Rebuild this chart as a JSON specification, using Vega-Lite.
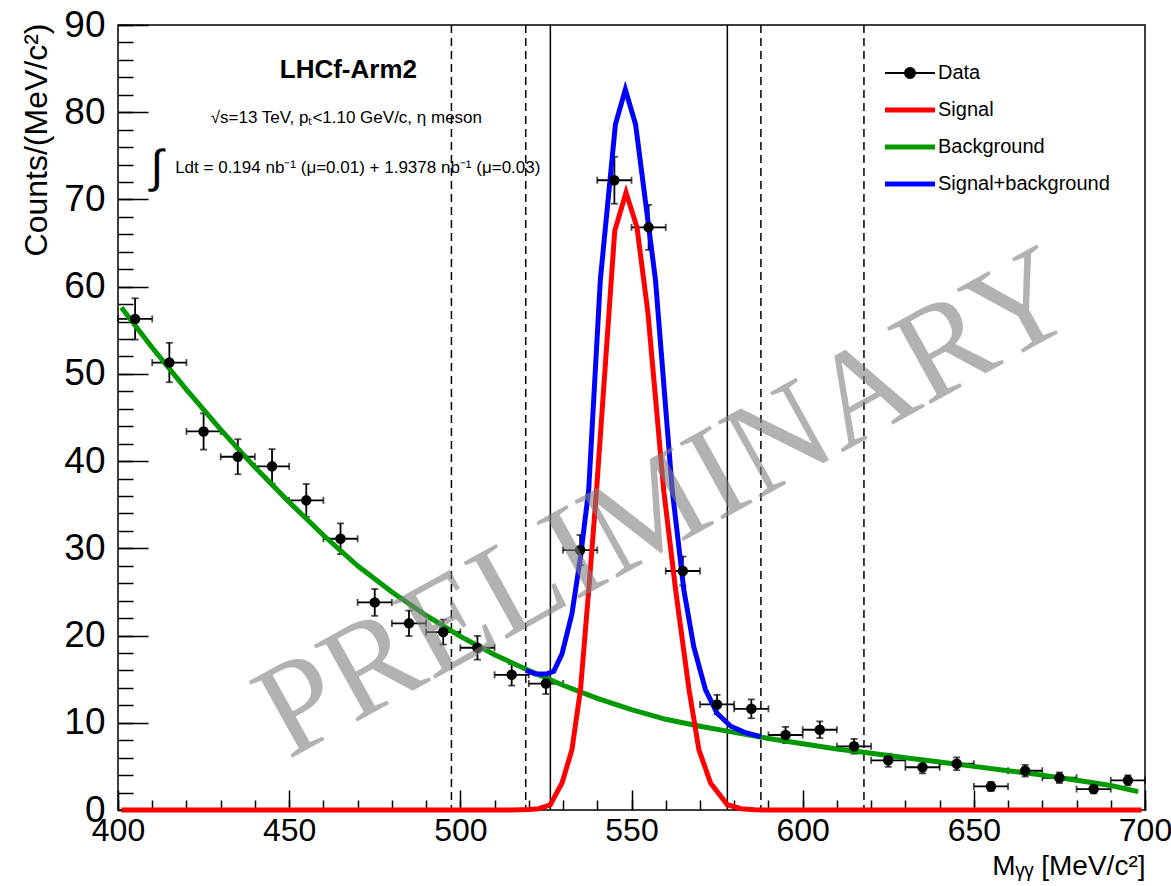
{
  "$schema": "https://vega.github.io/schema/vega-lite/v6.json",
  "width": 1027,
  "height": 785,
  "autosize": {"type": "none"},
  "padding": {"left": 118, "top": 25, "right": 26, "bottom": 76},
  "background": "white",
  "config": {
    "view": {"stroke": "black", "strokeWidth": 1.5},
    "font": "Liberation Sans",
    "legend": {
      "orient": "none", "legendX": 782, "legendY": 38, "title": null, "padding": 0,
      "symbolType": "M-2.5,0L2.5,0", "symbolSize": 400, "symbolStrokeWidth": 5,
      "labelOffset": 18, "rowPadding": 17, "labelFontSize": 20, "labelFont": "Liberation Sans", "labelColor": "black", "labelLimit": 400
    }
  },
  "datasets": {
    "pts": [
      {"m": 405, "c": 56.3, "lo": 53.93, "hi": 58.67, "xl": 400, "xh": 410},
      {"m": 415, "c": 51.3, "lo": 49.04, "hi": 53.56, "xl": 410, "xh": 420},
      {"m": 425, "c": 43.4, "lo": 41.32, "hi": 45.48, "xl": 420, "xh": 430},
      {"m": 435, "c": 40.5, "lo": 38.49, "hi": 42.51, "xl": 430, "xh": 440},
      {"m": 445, "c": 39.4, "lo": 37.42, "hi": 41.38, "xl": 440, "xh": 450},
      {"m": 455, "c": 35.5, "lo": 33.62, "hi": 37.38, "xl": 450, "xh": 460},
      {"m": 465, "c": 31.1, "lo": 29.34, "hi": 32.86, "xl": 460, "xh": 470},
      {"m": 475, "c": 23.8, "lo": 22.26, "hi": 25.34, "xl": 470, "xh": 480},
      {"m": 485, "c": 21.4, "lo": 19.94, "hi": 22.86, "xl": 480, "xh": 490},
      {"m": 495, "c": 20.4, "lo": 18.97, "hi": 21.83, "xl": 490, "xh": 500},
      {"m": 505, "c": 18.6, "lo": 17.24, "hi": 19.96, "xl": 500, "xh": 510},
      {"m": 515, "c": 15.5, "lo": 14.26, "hi": 16.74, "xl": 510, "xh": 520},
      {"m": 525, "c": 14.5, "lo": 13.3, "hi": 15.7, "xl": 520, "xh": 530},
      {"m": 535, "c": 29.8, "lo": 28.07, "hi": 31.53, "xl": 530, "xh": 540},
      {"m": 545, "c": 72.2, "lo": 69.51, "hi": 74.89, "xl": 540, "xh": 550},
      {"m": 555, "c": 66.8, "lo": 64.22, "hi": 69.38, "xl": 550, "xh": 560},
      {"m": 565, "c": 27.4, "lo": 25.74, "hi": 29.06, "xl": 560, "xh": 570},
      {"m": 575, "c": 12.1, "lo": 11.0, "hi": 13.2, "xl": 570, "xh": 580},
      {"m": 585, "c": 11.6, "lo": 10.52, "hi": 12.68, "xl": 580, "xh": 590},
      {"m": 595, "c": 8.6, "lo": 7.67, "hi": 9.53, "xl": 590, "xh": 600},
      {"m": 605, "c": 9.2, "lo": 8.24, "hi": 10.16, "xl": 600, "xh": 610},
      {"m": 615, "c": 7.3, "lo": 6.45, "hi": 8.15, "xl": 610, "xh": 620},
      {"m": 625, "c": 5.7, "lo": 4.95, "hi": 6.45, "xl": 620, "xh": 630},
      {"m": 635, "c": 4.9, "lo": 4.2, "hi": 5.6, "xl": 630, "xh": 640},
      {"m": 645, "c": 5.3, "lo": 4.57, "hi": 6.03, "xl": 640, "xh": 650},
      {"m": 655, "c": 2.7, "lo": 2.18, "hi": 3.22, "xl": 650, "xh": 660},
      {"m": 665, "c": 4.5, "lo": 3.83, "hi": 5.17, "xl": 660, "xh": 670},
      {"m": 675, "c": 3.7, "lo": 3.09, "hi": 4.31, "xl": 670, "xh": 680},
      {"m": 685, "c": 2.4, "lo": 1.91, "hi": 2.89, "xl": 680, "xh": 690},
      {"m": 695, "c": 3.4, "lo": 2.82, "hi": 3.98, "xl": 690, "xh": 700}
    ],
    "bkg": [
      {"m": 401, "v": 57.6}, {"m": 410, "v": 53.0}, {"m": 420, "v": 48.2},
      {"m": 430, "v": 43.6}, {"m": 440, "v": 39.3}, {"m": 450, "v": 35.3},
      {"m": 460, "v": 31.5}, {"m": 470, "v": 28.0}, {"m": 480, "v": 25.0},
      {"m": 490, "v": 22.3}, {"m": 500, "v": 19.9}, {"m": 510, "v": 17.8},
      {"m": 520, "v": 16.0}, {"m": 530, "v": 14.3}, {"m": 540, "v": 12.8},
      {"m": 550, "v": 11.5}, {"m": 560, "v": 10.4}, {"m": 570, "v": 9.6},
      {"m": 580, "v": 8.9}, {"m": 590, "v": 8.2}, {"m": 600, "v": 7.6},
      {"m": 610, "v": 7.0}, {"m": 620, "v": 6.5}, {"m": 630, "v": 6.0},
      {"m": 640, "v": 5.5}, {"m": 650, "v": 5.0}, {"m": 660, "v": 4.5},
      {"m": 670, "v": 4.0}, {"m": 680, "v": 3.4}, {"m": 690, "v": 2.8},
      {"m": 698, "v": 2.1}
    ],
    "sb": [
      {"m": 519.1, "v": 16.0}, {"m": 522, "v": 15.6}, {"m": 525.3, "v": 15.6},
      {"m": 527.3, "v": 15.9}, {"m": 529.7, "v": 17.9}, {"m": 532.6, "v": 22.5},
      {"m": 535.1, "v": 29.0}, {"m": 537.5, "v": 36.7}, {"m": 540.9, "v": 60.8},
      {"m": 545.3, "v": 78.6}, {"m": 548.2, "v": 82.6}, {"m": 551.2, "v": 78.6},
      {"m": 557.0, "v": 60.8}, {"m": 561.9, "v": 36.7}, {"m": 565.3, "v": 25.2},
      {"m": 568.2, "v": 18.7}, {"m": 571.6, "v": 13.8}, {"m": 575.0, "v": 11.1},
      {"m": 579.0, "v": 9.6}, {"m": 583, "v": 8.9}, {"m": 587.8, "v": 8.4}
    ],
    "sig": [
      {"m": 401, "v": 0}, {"m": 515, "v": 0}, {"m": 520, "v": 0.05},
      {"m": 523, "v": 0.15}, {"m": 526.3, "v": 0.6}, {"m": 529.7, "v": 3.1},
      {"m": 532.6, "v": 6.9}, {"m": 535.1, "v": 13.8}, {"m": 537.5, "v": 25.2},
      {"m": 539.8, "v": 36.7}, {"m": 545.1, "v": 66.4}, {"m": 548.4, "v": 70.8},
      {"m": 551.6, "v": 66.8}, {"m": 554.8, "v": 57.0}, {"m": 559.4, "v": 36.7},
      {"m": 562.9, "v": 25.2}, {"m": 566.8, "v": 13.8}, {"m": 569.7, "v": 6.9},
      {"m": 573.1, "v": 3.1}, {"m": 578.0, "v": 0.6}, {"m": 582, "v": 0.15},
      {"m": 586, "v": 0.03}, {"m": 590, "v": 0}, {"m": 699, "v": 0}
    ],
    "dashed": [{"m": 497.4}, {"m": 519.1}, {"m": 587.8}, {"m": 617.9}],
    "solid": [{"m": 526.3}, {"m": 578.0}],
    "one": [{}]
  },
  "resolve": {"axis": {"x": "independent", "y": "independent"}},
  "layer": [
    {
      "data": {"name": "dashed"},
      "mark": {"type": "rule", "color": "black", "strokeWidth": 1.5, "strokeDash": [8, 5]},
      "encoding": {
        "x": {"field": "m", "type": "quantitative", "scale": {"domain": [400, 700], "nice": false, "zero": false}, "axis": null}
      }
    },
    {
      "data": {"name": "solid"},
      "mark": {"type": "rule", "color": "black", "strokeWidth": 1.5},
      "encoding": {
        "x": {"field": "m", "type": "quantitative", "axis": null}
      }
    },
    {
      "data": {"name": "pts"},
      "mark": {"type": "rule", "color": "black", "strokeWidth": 1.8},
      "encoding": {
        "x": {"field": "m", "type": "quantitative",
          "axis": {"orient": "bottom", "values": [400,410,420,430,440,450,460,470,480,490,500,510,520,530,540,550,560,570,580,590,600,610,620,630,640,650,660,670,680,690,700],
            "tickSize": -10, "tickWidth": 1.5, "tickColor": "black", "labels": false, "domain": false, "grid": false, "title": null}},
        "y": {"field": "lo", "type": "quantitative",
          "scale": {"domain": [0, 90], "nice": false, "zero": false},
          "axis": {"orient": "left", "values": [0,2,4,6,8,10,12,14,16,18,20,22,24,26,28,30,32,34,36,38,40,42,44,46,48,50,52,54,56,58,60,62,64,66,68,70,72,74,76,78,80,82,84,86,88,90],
            "tickSize": -15, "tickWidth": 1.5, "tickColor": "black", "labels": false, "domain": false, "grid": false, "title": null}},
        "y2": {"field": "hi"}
      }
    },
    {
      "data": {"name": "pts"},
      "mark": {"type": "rule", "color": "black", "strokeWidth": 1.8},
      "encoding": {
        "x": {"field": "xl", "type": "quantitative", "axis": null},
        "x2": {"field": "xh"},
        "y": {"field": "c", "type": "quantitative", "axis": null}
      }
    },
    {
      "data": {"name": "pts"},
      "mark": {"type": "tick", "orient": "horizontal", "color": "black", "size": 7, "thickness": 1.8},
      "encoding": {
        "x": {"field": "m", "type": "quantitative", "axis": null},
        "y": {"field": "lo", "type": "quantitative", "axis": null}
      }
    },
    {
      "data": {"name": "pts"},
      "mark": {"type": "tick", "orient": "horizontal", "color": "black", "size": 7, "thickness": 1.8},
      "encoding": {
        "x": {"field": "m", "type": "quantitative", "axis": null},
        "y": {"field": "hi", "type": "quantitative", "axis": null}
      }
    },
    {
      "data": {"name": "pts"},
      "mark": {"type": "tick", "orient": "vertical", "color": "black", "size": 7, "thickness": 1.8},
      "encoding": {
        "x": {"field": "xl", "type": "quantitative", "axis": null},
        "y": {"field": "c", "type": "quantitative", "axis": null}
      }
    },
    {
      "data": {"name": "pts"},
      "mark": {"type": "tick", "orient": "vertical", "color": "black", "size": 7, "thickness": 1.8},
      "encoding": {
        "x": {"field": "xh", "type": "quantitative", "axis": null},
        "y": {"field": "c", "type": "quantitative", "axis": null}
      }
    },
    {
      "data": {"name": "bkg"},
      "mark": {"type": "line", "strokeWidth": 5, "clip": false},
      "encoding": {
        "x": {"field": "m", "type": "quantitative", "axis": null},
        "y": {"field": "v", "type": "quantitative", "axis": null},
        "color": {"datum": "Background", "type": "nominal",
          "scale": {"domain": ["Data", "Signal", "Background", "Signal+background"], "range": ["black", "#ff0000", "#009a00", "#0000ff"]},
          "legend": {
            "encode": {"symbols": {"update": {
              "shape": {"signal": "datum.value === 'Data' ? 'M-2.5,0L2.5,0M-0.5,0A0.5,0.5,0,1,0,0.5,0A0.5,0.5,0,1,0,-0.5,0Z' : 'M-2.5,0L2.5,0'"},
              "fill": {"signal": "datum.value === 'Data' ? 'black' : 'transparent'"},
              "stroke": {"scale": "color", "field": "value"},
              "strokeWidth": {"signal": "datum.value === 'Data' ? 2 : 5"},
              "size": {"value": 400},
              "opacity": {"value": 1}
            }}}}}
      }
    },
    {
      "data": {"name": "sb"},
      "mark": {"type": "line", "strokeWidth": 5, "clip": false},
      "encoding": {
        "x": {"field": "m", "type": "quantitative", "axis": null},
        "y": {"field": "v", "type": "quantitative", "axis": null},
        "color": {"datum": "Signal+background", "type": "nominal"}
      }
    },
    {
      "data": {"name": "sig"},
      "mark": {"type": "line", "strokeWidth": 5, "clip": false},
      "encoding": {
        "x": {"field": "m", "type": "quantitative", "axis": null},
        "y": {"field": "v", "type": "quantitative", "axis": null},
        "color": {"datum": "Signal", "type": "nominal"}
      }
    },
    {
      "data": {"name": "pts"},
      "mark": {"type": "point", "filled": true, "size": 110, "opacity": 1},
      "encoding": {
        "x": {"field": "m", "type": "quantitative",
          "axis": {"orient": "bottom", "values": [400, 450, 500, 550, 600, 650, 700],
            "tickSize": -20, "tickWidth": 1.5, "tickColor": "black", "domain": false, "grid": false,
            "labelFont": "Liberation Sans", "labelFontSize": 32, "labelColor": "black", "labelPadding": 25,
            "labelFlush": false, "labelOverlap": false,
            "title": "Mᵧᵧ [MeV/c²]", "titleFont": "Liberation Sans", "titleFontSize": 28, "titleFontWeight": "normal", "titleColor": "black",
            "titleAnchor": "end", "titleAlign": "right", "titleBaseline": "alphabetic", "titleX": 1027, "titleY": 64}},
        "y": {"field": "c", "type": "quantitative",
          "axis": {"orient": "left", "values": [0, 10, 20, 30, 40, 50, 60, 70, 80, 90],
            "tickSize": -30, "tickWidth": 1.5, "tickColor": "black", "domain": false, "grid": false,
            "labelFont": "Liberation Sans", "labelFontSize": 37, "labelColor": "black", "labelPadding": 43,
            "labelFlush": false, "labelOverlap": false,
            "title": "Counts/(MeV/c²)", "titleFont": "Liberation Sans", "titleFontSize": 32, "titleFontWeight": "normal", "titleColor": "black",
            "titleAngle": -90, "titleAlign": "right", "titleBaseline": "middle", "titleX": -82, "titleY": -2}},
        "color": {"datum": "Data", "type": "nominal",
          "legend": {
            "encode": {"symbols": {"update": {
              "shape": {"signal": "datum.value === 'Data' ? 'M-2.5,0L2.5,0M-0.5,0A0.5,0.5,0,1,0,0.5,0A0.5,0.5,0,1,0,-0.5,0Z' : 'M-2.5,0L2.5,0'"},
              "fill": {"signal": "datum.value === 'Data' ? 'black' : 'transparent'"},
              "stroke": {"scale": "color", "field": "value"},
              "strokeWidth": {"signal": "datum.value === 'Data' ? 2 : 5"},
              "size": {"value": 400},
              "opacity": {"value": 1}
            }}}}}
      }
    },
    {
      "data": {"name": "one"},
      "mark": {"type": "text", "text": "LHCf-Arm2", "font": "Liberation Sans", "fontSize": 26, "fontWeight": "bold", "align": "center", "baseline": "middle", "color": "black"},
      "encoding": {
        "x": {"datum": 467.3, "type": "quantitative", "axis": null},
        "y": {"datum": 84.8, "type": "quantitative", "axis": null}
      }
    },
    {
      "data": {"name": "one"},
      "mark": {"type": "text", "text": "√s=13 TeV, pₜ<1.10 GeV/c, η meson", "font": "Liberation Sans", "fontSize": 17, "align": "center", "baseline": "middle", "color": "black"},
      "encoding": {
        "x": {"datum": 466.7, "type": "quantitative", "axis": null},
        "y": {"datum": 79.3, "type": "quantitative", "axis": null}
      }
    },
    {
      "data": {"name": "one"},
      "mark": {"type": "text", "text": "∫", "font": "Liberation Sans", "fontSize": 46, "align": "center", "baseline": "middle", "color": "black"},
      "encoding": {
        "x": {"datum": 411.4, "type": "quantitative", "axis": null},
        "y": {"datum": 73.6, "type": "quantitative", "axis": null}
      }
    },
    {
      "data": {"name": "one"},
      "mark": {"type": "text", "text": "Ldt = 0.194 nb⁻¹ (μ=0.01) + 1.9378 nb⁻¹ (μ=0.03)", "font": "Liberation Sans", "fontSize": 17, "align": "left", "baseline": "middle", "color": "black"},
      "encoding": {
        "x": {"datum": 416.7, "type": "quantitative", "axis": null},
        "y": {"datum": 73.6, "type": "quantitative", "axis": null}
      }
    },
    {
      "data": {"name": "one"},
      "mark": {"type": "text", "text": "PRELIMINARY", "font": "Liberation Serif", "fontSize": 134, "angle": -29, "align": "center", "baseline": "middle", "color": "#808080", "opacity": 0.6},
      "encoding": {
        "x": {"datum": 560, "type": "quantitative", "axis": null},
        "y": {"datum": 35.0, "type": "quantitative", "axis": null}
      }
    }
  ]
}
